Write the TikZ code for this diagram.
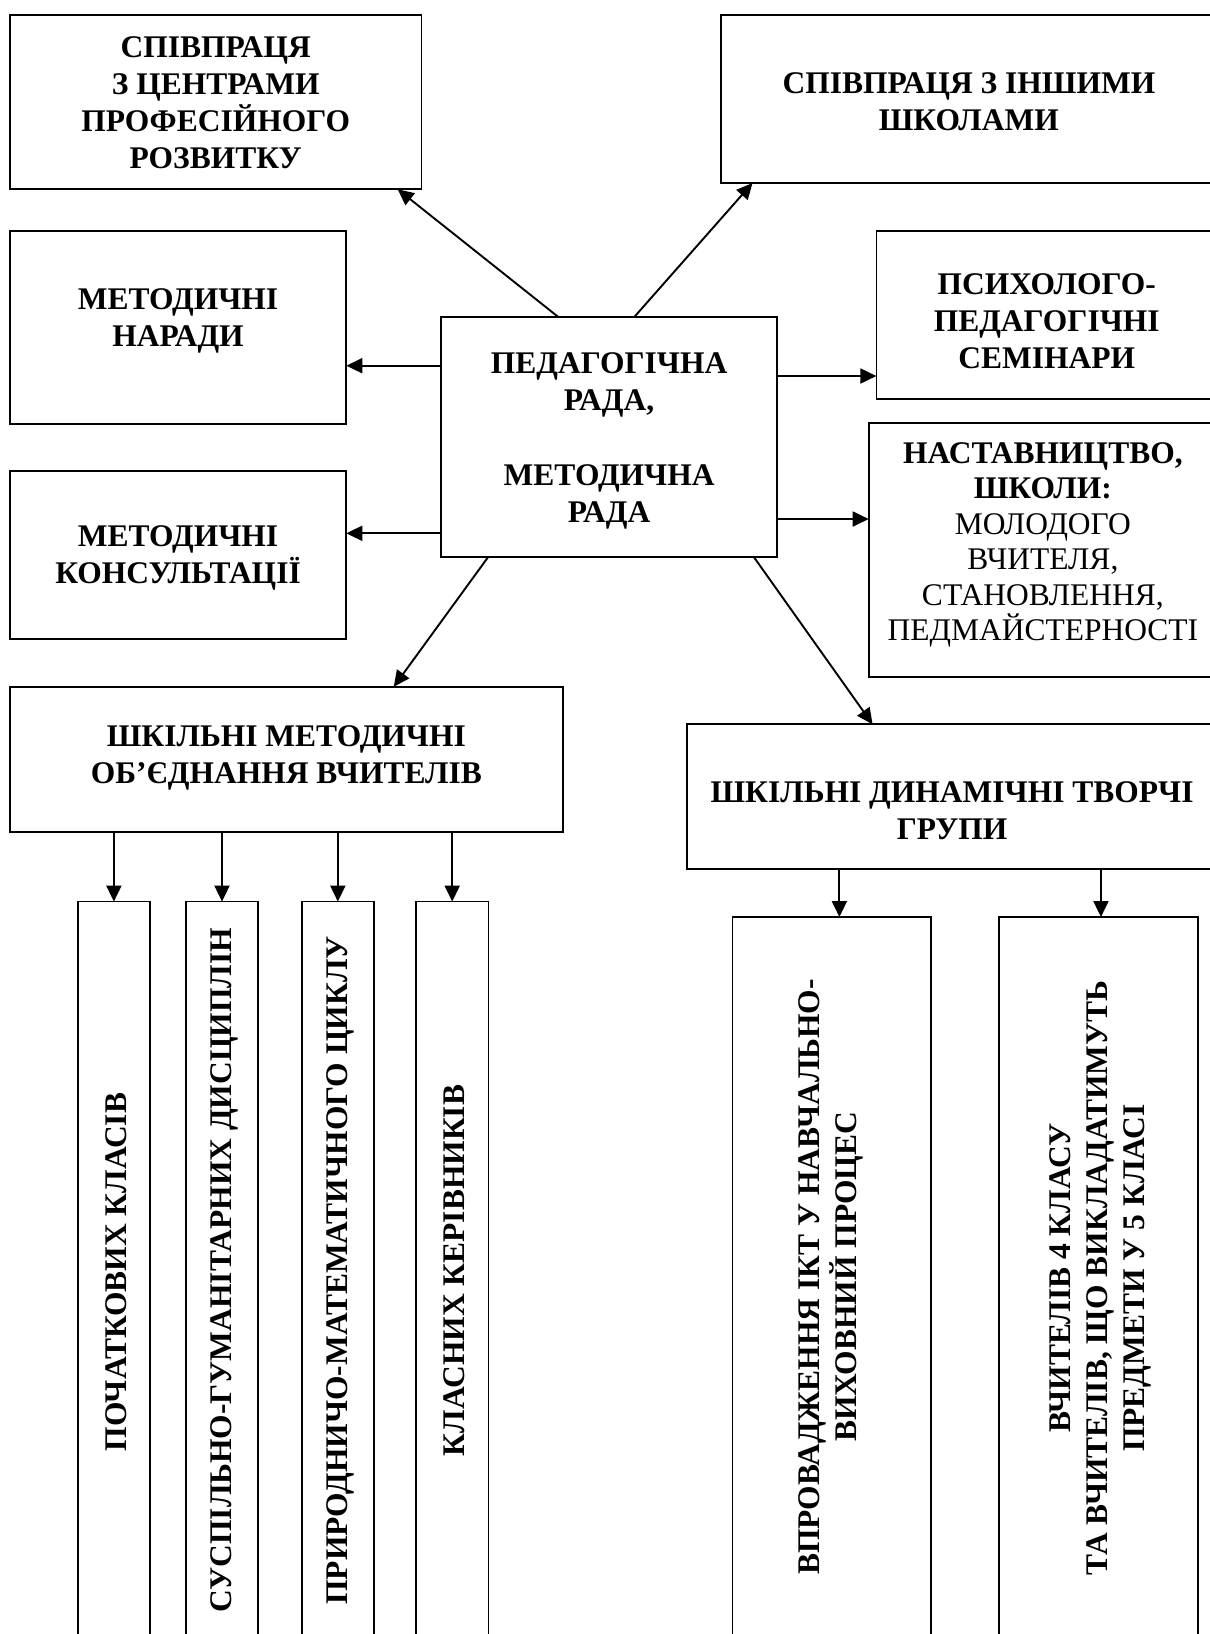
\documentclass[tikz,border=0pt]{standalone}
\usepackage{fontspec}
\setmainfont{Liberation Serif}
\usetikzlibrary{arrows.meta,calc}
\tikzset{
  box/.style={draw, line width=1.7pt, rectangle, inner sep=0pt, outer sep=0pt},
  txt/.style={align=center, inner sep=0pt, font=\fontsize{31.5}{37}\selectfont\bfseries},
  arr/.style={line width=1.9pt, -{Triangle[length=16pt,width=15pt]}}
}
\begin{document}
\begin{tikzpicture}[x=1pt,y=-1pt]
\useasboundingbox (0,0) rectangle (1210,1634);
\clip (0,0) rectangle (1210,1634);
% top-level boxes
\node[box, minimum width=411.9pt, minimum height=174.3pt] (A) at (215.65,102.15) {};
\node[txt] (At) at (215.65,103) {СПІВПРАЦЯ\\З ЦЕНТРАМИ\\ПРОФЕСІЙНОГО\\РОЗВИТКУ};
\node[box, minimum width=496.2pt, minimum height=168pt] (B) at (968.9,99) {};
\node[txt] (Bt) at (968.9,102) {СПІВПРАЦЯ З ІНШИМИ\\ШКОЛАМИ};
\node[box, minimum width=336.6pt, minimum height=193pt] (C) at (178,327.5) {};
\node[txt] (Ct) at (178,320.5) {МЕТОДИЧНІ\\НАРАДИ};
\node[box, minimum width=340.6pt, minimum height=168pt] (D) at (1046.7,315) {};
\node[txt] (Dt) at (1046.7,321) {ПСИХОЛОГО-\\ПЕДАГОГІЧНІ\\СЕМІНАРИ};
\node[box, minimum width=336.2pt, minimum height=239.4pt] (ctr) at (609.1,437) {};
\node[txt] (ctrt) at (609.1,440.5) {ПЕДАГОГІЧНА\\РАДА,\\[38pt]МЕТОДИЧНА\\РАДА};
\node[box, minimum width=336.6pt, minimum height=168.3pt] (E) at (178,555.15) {};
\node[txt] (Et) at (178,558) {МЕТОДИЧНІ\\КОНСУЛЬТАЦІЇ};
\node[box, minimum width=348.3pt, minimum height=253.4pt] (F) at (1042.85,550) {};
\node[txt, font=\fontsize{31.5}{35.5}\selectfont] (Ft) at (1042.85,545) {\bfseries НАСТАВНИЦТВО,\\\bfseries ШКОЛИ:\\МОЛОДОГО\\ВЧИТЕЛЯ,\\СТАНОВЛЕННЯ,\\ПЕДМАЙСТЕРНОСТІ};
\node[box, minimum width=553.3pt, minimum height=145pt] (G) at (286.35,759.2) {};
\node[txt] (Gt) at (286.35,758) {ШКІЛЬНІ МЕТОДИЧНІ\\ОБ’ЄДНАННЯ ВЧИТЕЛІВ};
\node[box, minimum width=529.8pt, minimum height=144.7pt] (H) at (952.1,796.65) {};
\node[txt] (Ht) at (952.1,811) {ШКІЛЬНІ ДИНАМІЧНІ ТВОРЧІ\\ГРУПИ};
% vertical boxes
\node[box, minimum width=71.8pt, minimum height=738.4pt] (V1) at (113.9,1270.8) {};
\node[box, minimum width=72pt, minimum height=738.4pt] (V2) at (222,1270.8) {};
\node[box, minimum width=71.7pt, minimum height=738.4pt] (V3) at (337.85,1270.8) {};
\node[box, minimum width=72.4pt, minimum height=738.4pt] (V4) at (452.2,1270.8) {};
\node[box, minimum width=198.8pt, minimum height=723pt] (V5) at (831.8,1278.5) {};
\node[box, minimum width=198.9pt, minimum height=723pt] (V6) at (1098.25,1278.5) {};
\node[txt, rotate=90] (V1t) at (116,1272) {ПОЧАТКОВИХ КЛАСІВ};
\node[txt, rotate=90] (V2t) at (224,1270.5) {СУСПІЛЬНО-ГУМАНІТАРНИХ ДИСЦИПЛІН};
\node[txt, rotate=90] (V3t) at (340,1270.5) {ПРИРОДНИЧО-МАТЕМАТИЧНОГО ЦИКЛУ};
\node[txt, rotate=90] (V4t) at (454,1270.5) {КЛАСНИХ КЕРІВНИКІВ};
\node[txt, rotate=90] (V5t) at (831,1277) {ВПРОВАДЖЕННЯ ІКТ У НАВЧАЛЬНО-\\ВИХОВНИЙ ПРОЦЕС};
\node[txt, rotate=90] (V6t) at (1100,1278) {ВЧИТЕЛІВ 4 КЛАСУ\\ТА ВЧИТЕЛІВ, ЩО ВИКЛАДАТИМУТЬ\\ПРЕДМЕТИ У 5 КЛАСІ};
% connectors from centre
\draw[arr] ([xshift=117.7pt]ctr.north west) -- ([xshift=-23.9pt]A.south east);
\draw[arr] ([xshift=193pt]ctr.north west) -- ([xshift=31.7pt]B.south west);
\draw[arr] ([yshift=71.3pt]ctr.west) -- ([yshift=71.3pt]ctr.west -| C.east);
\draw[arr] ([yshift=-96.3pt]ctr.west) -- ([yshift=-96.3pt]ctr.west -| E.east);
\draw[arr] ([yshift=61pt]ctr.east) -- ([yshift=61pt]ctr.east -| D.west);
\draw[arr] ([yshift=-82pt]ctr.east) -- ([yshift=-82pt]ctr.east -| F.west);
\draw[arr] ([xshift=47.4pt]ctr.south west) -- ([xshift=384.1pt]G.north west);
\draw[arr] ([xshift=312.6pt]ctr.south west) -- ([xshift=185.4pt]H.north west);
% connectors to vertical boxes
\foreach \v in {V1,V2,V3,V4}{
  \draw[arr] (\v.north |- G.south) -- (\v.north);
}
\draw[arr] ([xshift=7.6pt]V5.north |- H.south) -- ([xshift=7.6pt]V5.north);
\draw[arr] ([xshift=2.7pt]V6.north |- H.south) -- ([xshift=2.7pt]V6.north);
\end{tikzpicture}
\end{document}
